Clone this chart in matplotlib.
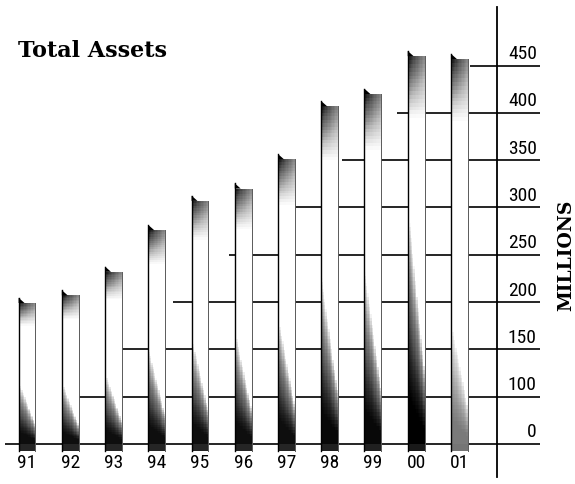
import numpy as np
import matplotlib
matplotlib.use("Agg")
import matplotlib.pyplot as plt
from matplotlib import font_manager

YEARS = ["91", "92", "93", "94", "95", "96", "97", "98", "99", "00", "01"]
ASSETS = [199, 207, 232, 276, 307, 320, 351, 407, 420, 460, 457]  # millions
TICKS = [0, 100, 150, 200, 250, 300, 350, 400, 450]

# where each rule starts on the left, in bar slots (staircase layout)
GRID_FROM = [-0.51, 1.18, 2.13, 3.38, 4.67, 6.2, 7.28, 8.56, 10.24]
# how far up each bar the dark shading at the foot reaches, and how dark it gets
BOTTOM_INK = [0.45, 0.42, 0.42, 0.45, 0.45, 0.45, 0.45, 0.5, 0.5, 0.62, 0.32]
BOTTOM_TONE = [0.95, 0.95, 0.95, 0.95, 0.95, 0.95, 0.95, 0.97, 0.97, 1.0, 0.6]

BAR_W = 0.39
CAP = 5.5
RULE_END = 11.86
LABEL_X = 11.79


def fwd(v):
    # 0..100 squeezed into one step, then 50 per step
    v = np.asarray(v, dtype=float)
    return np.where(v < 100, v / 100.0, (v - 50) / 50.0)


def inv(p):
    p = np.asarray(p, dtype=float)
    return np.where(p < 1, p * 100.0, p * 50.0 + 50)


def pick_font(candidates):
    names = {f.name for f in font_manager.fontManager.ttflist}
    for c in candidates:
        if c in names:
            return c
    return "DejaVu Sans"


num_font = pick_font(["Liberation Sans Narrow", "Roboto Condensed", "DejaVu Sans"])

fig = plt.figure(figsize=(5.75, 4.85), dpi=100)
ax = fig.add_axes([5 / 575, 7 / 485, 492 / 575, 470 / 485])
ax.set_yscale("function", functions=(fwd, inv))
ax.set_xlim(-0.51, 10.87)
ax.set_ylim(-70, 512)
ax.tick_params(left=False, right=False, bottom=False, top=False,
               labelleft=False, labelbottom=False)
for side in ["top", "left", "bottom"]:
    ax.spines[side].set_visible(False)
ax.spines["right"].set_linewidth(1.3)

# rules
for v, start in zip(TICKS, GRID_FROM):
    ax.plot([start, RULE_END], [v, v], color="black", lw=1.2, zorder=2,
            clip_on=False, solid_capstyle="butt")
    ax.annotate(str(v), (LABEL_X, v), xytext=(0, 2.5), textcoords="offset points",
                ha="right", va="bottom", fontsize=14, family=num_font,
                annotation_clip=False)

x = np.arange(len(YEARS))
ax.bar(x, ASSETS, width=BAR_W, color="white", linewidth=0, zorder=3)

ncol, nrow = 12, 100
for xi, h, ink, tone in zip(x, ASSETS, BOTTOM_INK, BOTTOM_TONE):
    xl, xr = xi - BAR_W / 2, xi + BAR_W / 2
    xe = np.linspace(xl, xr, ncol + 1)
    ye = inv(np.linspace(0, fwd(h), nrow + 1))
    u = (np.arange(ncol) + 0.5) / ncol
    t = (np.arange(nrow) + 0.5) / nrow
    U, T = np.meshgrid(u, t)
    reach = ink * (1 - 0.7 * U)
    foot = np.clip((reach - T) / (0.8 * reach), 0, 1) ** 0.5 * tone
    head = np.clip((T - 0.84) / 0.16, 0, 1) ** 0.8 * (0.95 - 0.4 * U)
    dark = np.maximum(foot, head)
    ax.pcolormesh(xe, ye, dark, cmap="Greys", vmin=0, vmax=1,
                  shading="flat", zorder=4, antialiased=False)
    # curled top corner and dark foot below the baseline
    ax.fill([xl, xl, xl + 0.35 * BAR_W], [h, h + CAP, h], color="black",
            lw=0, zorder=5)
    ax.fill_between([xl, xr], -14, 0, color=str(1 - 0.9 * tone), lw=0, zorder=4)
    ax.plot([xl, xl], [-14, h + CAP], color="black", lw=1.0, zorder=5)
    ax.plot([xr, xr], [-14, h], color="0.35", lw=0.7, zorder=5)

for xi, yr in zip(x, YEARS):
    ax.annotate(yr, (xi, 0), xytext=(0, -6.5), textcoords="offset points",
                ha="center", va="top", fontsize=14, family=num_font,
                annotation_clip=False)

fig.text(18 / 575, 1 - 57 / 485, "Total Assets", family="DejaVu Serif",
         weight="bold", fontsize=16, va="baseline", ha="left")
fig.text(566 / 575, 1 - 255 / 485, "MILLIONS", family="DejaVu Serif",
         weight="bold", fontsize=13.5, rotation=90, ha="center", va="center")

fig.savefig("out.png", dpi=100)
